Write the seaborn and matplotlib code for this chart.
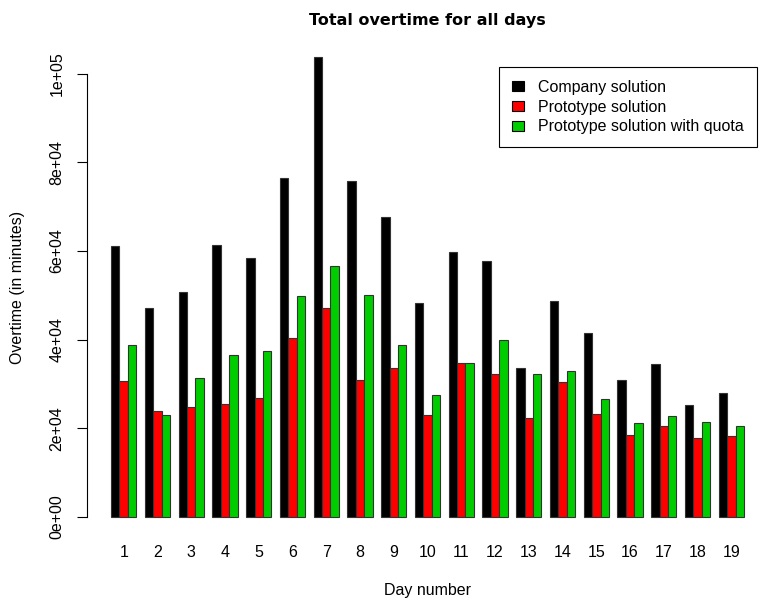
import numpy as np
import pandas as pd
import matplotlib
matplotlib.use("Agg")
import matplotlib.pyplot as plt
from matplotlib.patches import Patch
import seaborn as sns

# values
days = [str(d) for d in range(1, 20)]
company = [61000, 47200, 50800, 61300, 58300, 76400, 103800, 75800, 67700, 48300,
           59800, 57700, 33600, 48600, 41400, 30900, 34500, 25200, 27900]
prototype = [30700, 23900, 24800, 25400, 26900, 40400, 47100, 30800, 33500, 23000,
             34700, 32300, 22400, 30500, 23300, 18500, 20600, 17900, 18200]
quota = [38700, 23000, 31400, 36600, 37400, 49800, 56700, 50100, 38700, 27500,
         34700, 39900, 32300, 32900, 26600, 21200, 22700, 21500, 20600]
series = ["Company solution", "Prototype solution", "Prototype solution with quota"]
colors = ["#000000", "#FF0000", "#00CD00"]
yticks = [0, 20000, 40000, 60000, 80000, 100000]
ytick_labels = ["0e+00", "2e+04", "4e+04", "6e+04", "8e+04", "1e+05"]

df = pd.DataFrame({
    "Day": days * 3,
    "Overtime": company + prototype + quota,
    "Solution": np.repeat(series, len(days)),
})

sns.set_style("white")
plt.rcParams["font.family"] = ["Liberation Sans", "DejaVu Sans"]
plt.rcParams["text.color"] = "black"
plt.rcParams["xtick.color"] = "black"
plt.rcParams["ytick.color"] = "black"
fs = 11.5

W, H = 759, 602
fig = plt.figure(figsize=(W / 100, H / 100), dpi=100)
ax_left, ax_right = 86.7, 759
ax_top, ax_bottom = 38.3, 535.4
ax = fig.add_axes([ax_left / W, 1 - ax_bottom / H,
                   (ax_right - ax_left) / W, (ax_bottom - ax_top) / H])

sns.barplot(data=df, x="Day", y="Overtime", hue="Solution", hue_order=series,
            palette=colors, width=0.75, gap=0, edgecolor="#333333",
            linewidth=0.8, saturation=1, errorbar=None, ax=ax, legend=False)

ax.set_xlim(-1.096, 18.82)
ax.set_ylim(-4150, 107950)
for s in ["top", "right", "bottom"]:
    ax.spines[s].set_visible(False)
ax.spines["left"].set_bounds(0, 100000)
ax.spines["left"].set_color("black")
ax.spines["left"].set_linewidth(0.8)

ax.set_yticks(yticks)
ax.set_yticklabels(ytick_labels, rotation=90, va="center", fontsize=fs)
ax.tick_params(axis="y", length=7, width=0.8, color="black", pad=9, left=True,
               labelcolor="black")
ax.tick_params(axis="x", length=0, pad=7, labelsize=fs, labelcolor="black")
ax.set_xlabel("")
ax.set_ylabel("")

fig.text(427 / W, 1 - 20 / H, "Total overtime for all days", ha="center", va="center",
         fontsize=11.5, fontweight="bold", family="DejaVu Sans", color="black")
fig.text(427 / W, 1 - 590 / H, "Day number", ha="center", va="center", fontsize=fs,
         color="black")
fig.text(18 / W, 1 - 287 / H, "Overtime (in minutes)", ha="center", va="center",
         rotation=90, fontsize=fs, color="black")

handles = [Patch(facecolor=c, edgecolor="black", linewidth=0.8) for c in colors]
leg = fig.legend(handles, series, loc="upper right",
                 bbox_to_anchor=(757 / W, 1 - 67 / H), bbox_transform=fig.transFigure,
                 borderaxespad=0, fancybox=False, edgecolor="black", framealpha=1,
                 fontsize=fs, handlelength=0.75, handleheight=0.6, handletextpad=0.9,
                 labelspacing=0.3, borderpad=0.8)
leg.get_frame().set_linewidth(0.8)
for t in leg.get_texts():
    t.set_color("black")

fig.savefig("out.png", dpi=100)
